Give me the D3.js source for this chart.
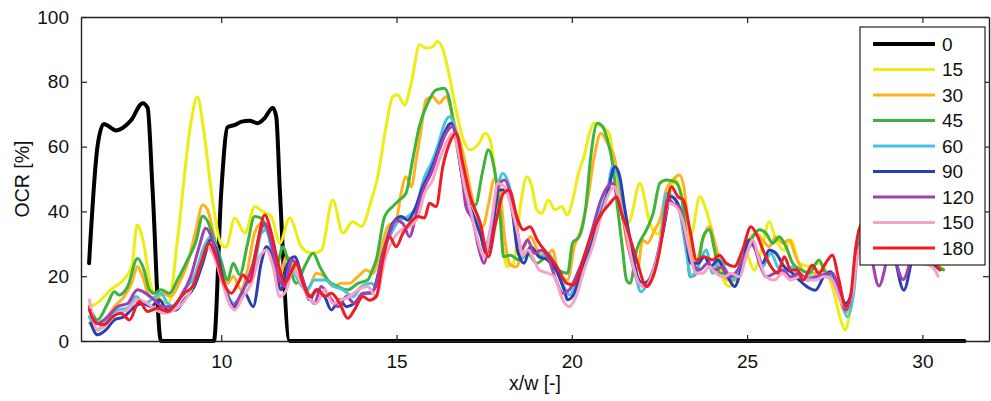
<!DOCTYPE html>
<html><head><meta charset="utf-8">
<script src="https://cdn.jsdelivr.net/npm/d3@7"></script>
<style>
html,body{margin:0;padding:0;background:#fff;}
svg{display:block;font-family:"Liberation Sans",Arial,Helvetica,sans-serif;}
</style></head>
<body><svg id="c" width="991" height="401"></svg>
<script>
const seriesNames = ["0","15","30","45","60","90","120","150","180"];
const seriesColors = ["#000000","#eded10","#ffb21f","#3cb33c","#45c4e0","#2b3fae","#a33fb0","#f5a3c7","#ee1c24"];
const xTicks = [10,15,20,25,30];
const yTicks = [0,20,40,60,80,100];

const s0 = [[6.23,24],[6.47,60],[6.65,67],[7.0,65],[7.42,68],[7.76,73.4],[7.9,72],[8.04,47],[8.28,0],[9.79,0],[10.0,46],[10.18,66],[10.39,66.7],[10.58,67.7],[10.81,68],[11.04,67.2],[11.24,68.8],[11.47,72],[11.57,69.2],[11.67,47],[11.95,0],[31.2,0]];
const s15 = [[6.23,10.5],[6.5,12],[6.83,15.7],[7.2,18.8],[7.45,23],[7.6,35.8],[7.77,31],[8.0,16.7],[8.18,13.7],[8.5,11.7],[8.75,31],[9.13,67],[9.32,75.4],[9.5,65],[9.75,43.5],[9.99,30],[10.13,29],[10.39,38],[10.67,33.3],[10.96,41.5],[11.19,39.9],[11.43,38.4],[11.67,30.2],[11.95,38],[12.29,29],[12.6,27],[12.86,28],[13.18,43.5],[13.47,33.3],[13.75,36.8],[14.0,35.3],[14.28,43.5],[14.45,50],[14.7,66],[14.89,75.4],[15.03,76],[15.23,72.8],[15.42,79.6],[15.66,91.4],[15.85,90.4],[16.03,90.8],[16.17,92.4],[16.31,90.4],[16.51,81.6],[16.7,71.3],[16.88,63],[17.1,59],[17.35,61],[17.53,64.1],[17.67,62],[17.85,48],[18.05,28],[18.15,23],[18.34,24],[18.53,41.5],[18.72,50.7],[18.86,47.7],[19.0,40.5],[19.14,39.4],[19.33,43.5],[19.52,40.5],[19.71,41.5],[19.86,38.9],[20.05,44.6],[20.19,51.8],[20.35,57],[20.5,64],[20.64,67.2],[20.87,66],[21.07,64],[21.2,55],[21.35,45],[21.5,36],[21.66,37.3],[21.94,48.7],[22.23,36.3],[22.45,33],[22.75,44],[22.97,49.7],[23.2,42],[23.4,33],[23.65,44.5],[23.86,39.4],[24.06,31.2],[24.25,21],[24.49,16.8],[24.68,19.8],[24.97,27],[25.2,21.9],[25.43,29],[25.63,36.8],[25.82,31.2],[26.05,28],[26.25,31.2],[26.49,24],[26.77,23],[27.05,24],[27.28,21],[27.48,14.8],[27.67,6.5],[27.79,3.4],[27.91,7.5],[28.1,23],[28.3,30],[28.8,28],[29.4,26],[30.0,25],[30.4,24],[30.6,22]];
const s30 = [[6.24,5.5],[6.47,3.4],[6.71,6.5],[6.95,10.6],[7.23,13.7],[7.45,18],[7.61,23],[7.76,19.9],[7.95,13.7],[8.15,13],[8.33,14.7],[8.56,13.7],[8.8,17.8],[9.04,24],[9.28,34.3],[9.47,42],[9.61,40.5],[9.8,32.2],[9.99,23],[10.18,17.8],[10.34,19.9],[10.57,15.8],[10.75,22],[10.95,33.3],[11.14,36.3],[11.29,34.3],[11.48,27],[11.67,19.9],[11.86,26],[12.05,24],[12.24,17.8],[12.47,15.8],[12.71,20.9],[12.95,19.9],[13.19,16.8],[13.42,17.8],[13.66,17.8],[13.9,19.9],[14.14,21.9],[14.33,20.9],[14.5,26],[14.75,35.3],[14.99,37.3],[15.13,45.6],[15.27,50.7],[15.42,47.6],[15.56,55.9],[15.7,65.1],[15.84,74.4],[16.03,75.4],[16.22,73.4],[16.41,75.4],[16.56,71.3],[16.7,65.1],[16.85,60],[16.98,53.8],[17.13,45.6],[17.3,39],[17.46,35.3],[17.62,42],[17.79,50],[17.93,48],[18.08,32.2],[18.22,23.9],[18.41,22.9],[18.64,29.1],[18.83,32.2],[19.02,28.1],[19.26,26],[19.45,28.1],[19.6,21.9],[19.88,18.8],[20.07,29.1],[20.26,34.3],[20.45,43.5],[20.64,56.9],[20.83,64.1],[21.02,61],[21.21,56.9],[21.4,43.5],[21.54,32.2],[21.68,26],[21.87,21.9],[22.02,31.2],[22.16,30.2],[22.35,34],[22.54,38.4],[22.69,46.6],[22.88,49.7],[23.07,51.2],[23.21,46.6],[23.35,33.2],[23.54,24],[23.73,31.2],[23.92,35.3],[24.11,29.1],[24.26,23],[24.45,18.8],[24.64,18.8],[24.87,24],[25.06,31.2],[25.25,33.2],[25.44,31.2],[25.63,29.1],[25.82,32.2],[26.01,30.2],[26.2,31.2],[26.39,26],[26.63,21.5],[26.95,20.9],[27.19,21.9],[27.43,18.8],[27.62,13.7],[27.81,8.5],[28.0,14.7],[28.14,27.1],[28.4,32],[29.0,28],[29.6,26],[30.2,24],[30.6,22]];
const s45 = [[6.24,10.6],[6.47,6.5],[6.76,11.6],[6.95,15.2],[7.09,14.2],[7.33,16.8],[7.61,25.5],[7.8,21.9],[7.95,15.8],[8.09,14.7],[8.28,15.8],[8.52,14.7],[8.75,18.8],[9.04,25],[9.28,30.7],[9.47,38.5],[9.61,37],[9.8,31.2],[9.99,25],[10.18,18.8],[10.34,24],[10.53,20.4],[10.75,30],[10.95,38.4],[11.14,37.9],[11.35,33],[11.57,23],[11.76,29.1],[11.9,25],[12.14,17.8],[12.38,23],[12.62,27.1],[12.81,23],[13.04,18.8],[13.33,16.8],[13.61,15.8],[13.9,17.8],[14.18,18.8],[14.33,22.4],[14.42,25],[14.66,38.4],[14.89,41.5],[15.08,43.5],[15.27,45.6],[15.46,55.9],[15.65,66.2],[15.89,73.4],[16.13,77.5],[16.37,78],[16.51,74.4],[16.65,65.1],[16.79,55.9],[16.94,47.6],[17.08,42.5],[17.25,42],[17.45,52],[17.62,59],[17.76,54.8],[17.96,38.4],[18.05,26],[18.24,26.5],[18.5,25],[18.75,27],[19.0,24],[19.3,26],[19.6,22],[19.88,20.9],[20.02,30.2],[20.21,32.2],[20.4,41.5],[20.54,56.9],[20.73,67.2],[20.88,66.2],[21.02,62],[21.16,54.9],[21.3,41.5],[21.45,28.1],[21.56,18.8],[21.66,17.8],[21.85,28.1],[22.13,34.3],[22.32,39.4],[22.51,48.7],[22.7,49.7],[22.94,49.2],[23.13,44.5],[23.27,31.2],[23.37,19.8],[23.56,20.9],[23.75,32.2],[23.92,34.3],[24.07,28.1],[24.21,20.9],[24.4,20.9],[24.64,19.8],[24.87,26],[25.11,31.2],[25.35,34.3],[25.54,33.2],[25.73,30.2],[25.92,32.2],[26.11,29.1],[26.3,24],[26.54,21.9],[26.77,20.9],[27.05,25],[27.24,20.9],[27.43,20],[27.62,14.7],[27.81,10.6],[28.0,14.7],[28.14,28.1],[28.4,32],[29.0,28],[29.6,26],[30.2,24],[30.6,22]];
const s60 = [[6.24,7.5],[6.47,3.4],[6.76,6.5],[7.04,9.6],[7.33,10.1],[7.57,13.7],[7.8,11.6],[8.05,13],[8.28,14.7],[8.47,11.6],[8.66,10.6],[8.94,15.8],[9.23,19.9],[9.51,29.1],[9.7,32.2],[9.89,27.1],[10.08,17.8],[10.38,11.6],[10.67,16.8],[10.9,19.9],[11.14,33.3],[11.29,34.3],[11.48,26],[11.71,17.8],[11.95,24],[12.14,19.9],[12.43,15.8],[12.66,18.8],[12.95,18.8],[13.23,16.8],[13.47,15.8],[13.76,13.7],[14.0,16.8],[14.28,17.8],[14.42,16.8],[14.61,27],[14.85,33.2],[15.08,37.3],[15.32,38.4],[15.56,41.5],[15.8,50.7],[15.99,54.8],[16.2,61],[16.37,67.2],[16.51,69.2],[16.65,66.2],[16.8,56],[16.98,45.6],[17.17,39.4],[17.36,35.3],[17.51,29.1],[17.7,35.3],[17.89,47.6],[18.03,51.7],[18.22,47.6],[18.41,36],[18.6,26],[18.83,29.1],[19.07,26],[19.31,27.1],[19.55,23],[19.78,16.8],[19.93,14.2],[20.12,17.8],[20.35,26],[20.59,33.3],[20.83,40.5],[21.02,46.6],[21.16,53.8],[21.3,51.8],[21.45,43.5],[21.64,31.2],[21.83,19.9],[21.97,15.2],[22.16,17.8],[22.35,23],[22.54,32.2],[22.69,45.6],[22.88,44.5],[23.07,40.4],[23.26,28.1],[23.4,19.8],[23.59,22.9],[23.83,28.1],[24.02,20.9],[24.21,25],[24.4,21.9],[24.59,18.8],[24.83,22.9],[25.02,31.2],[25.25,28.1],[25.44,22.9],[25.68,27.1],[25.87,22.9],[26.06,20.9],[26.3,22.9],[26.54,18.8],[26.77,19.8],[27.0,19.8],[27.24,20.9],[27.43,19.8],[27.67,13.7],[27.86,7.5],[28.05,15.7],[28.19,31.2],[28.4,34],[29.0,28],[29.6,26],[30.2,24],[30.5,22]];
const s90 = [[6.28,5.5],[6.47,1.9],[6.71,3.4],[6.95,6.5],[7.23,7.5],[7.52,10.6],[7.76,11.6],[8.0,10.6],[8.23,12.7],[8.47,9.6],[8.71,9.6],[8.94,12.7],[9.23,16.8],[9.47,24],[9.7,31.2],[9.89,27.1],[10.08,17.8],[10.38,10.6],[10.67,14.7],[10.91,10.6],[11.14,24],[11.29,29.1],[11.48,25],[11.71,15.8],[11.9,24],[12.09,26],[12.33,18.8],[12.52,12.7],[12.71,15.8],[12.95,13.7],[13.14,9.6],[13.38,12.7],[13.57,10.6],[13.8,11.6],[14.04,14.7],[14.3,15],[14.61,27],[14.89,36.3],[15.13,38.4],[15.32,37.3],[15.51,40.4],[15.75,47.6],[15.94,51.8],[16.13,57],[16.32,63],[16.56,67.2],[16.7,63],[16.85,52],[16.98,44.5],[17.17,39.4],[17.41,32.2],[17.55,27],[17.74,35.3],[17.93,46.6],[18.12,46.6],[18.31,39.4],[18.45,28],[18.64,24],[18.83,29.1],[19.07,26],[19.31,25],[19.55,21.9],[19.78,15.8],[19.88,12.7],[20.07,14.7],[20.31,23],[20.54,29.1],[20.78,37.4],[21.02,45.6],[21.23,53.8],[21.37,50.7],[21.5,41.5],[21.68,30.2],[21.87,19.9],[22.02,17.8],[22.21,18.8],[22.4,24],[22.59,33],[22.83,44.5],[23.02,42.5],[23.21,35.3],[23.4,24],[23.6,24],[23.78,26],[23.97,23],[24.16,25],[24.4,20.9],[24.64,16.8],[24.83,21.9],[25.06,31.2],[25.25,28.1],[25.44,24],[25.63,28.1],[25.82,27.1],[26.06,22.9],[26.3,20.9],[26.49,18.8],[26.68,17],[26.95,15.7],[27.19,19.9],[27.38,21.4],[27.57,17.8],[27.81,11.6],[28.0,15.7],[28.14,27.1],[28.45,30],[28.76,24],[29.1,29],[29.47,15.7],[29.8,28],[30.2,25],[30.5,22]];
const s120 = [[6.24,10.6],[6.47,5.5],[6.76,7.5],[7.04,10.6],[7.33,11.6],[7.61,15.8],[7.85,14.7],[8.09,12.7],[8.33,10.6],[8.61,10.6],[8.85,13.7],[9.13,19.9],[9.37,29.1],[9.56,34.8],[9.75,31.2],[9.99,19.9],[10.18,13.7],[10.29,10.5],[10.53,13.7],[10.72,18],[10.91,24],[11.1,33.3],[11.24,36.3],[11.43,30.2],[11.62,19.9],[11.81,16.8],[12.0,25],[12.19,23],[12.43,15.8],[12.66,11.6],[12.85,16.8],[13.09,13.7],[13.33,10.6],[13.57,13.7],[13.8,11.6],[14.04,14.7],[14.28,14.7],[14.42,17.8],[14.61,27],[14.8,33.2],[14.99,37.3],[15.18,36.3],[15.37,32.2],[15.58,40],[15.8,47.6],[15.99,51.8],[16.22,59],[16.41,64.1],[16.6,66.2],[16.75,61],[16.88,50],[16.98,41.5],[17.17,37.4],[17.36,28],[17.49,24],[17.7,35.3],[17.89,47.6],[18.08,49.7],[18.27,44.5],[18.46,33],[18.55,28.1],[18.74,31.2],[18.93,27.1],[19.12,28],[19.31,26],[19.55,18.8],[19.74,14.7],[19.93,15.8],[20.12,19.9],[20.35,26],[20.6,35],[20.83,43.5],[21.02,47.6],[21.16,48.7],[21.3,44.6],[21.49,36.3],[21.68,26],[21.87,18.8],[22.06,16.8],[22.25,19.9],[22.44,26],[22.6,35],[22.75,44],[22.88,42.5],[23.07,41.5],[23.26,31.2],[23.45,24],[23.64,21.9],[23.88,24],[24.07,21.9],[24.3,22.9],[24.49,19.8],[24.73,21.9],[24.97,27.1],[25.16,30.2],[25.35,24],[25.54,19.8],[25.78,20.9],[26.01,21.9],[26.25,19.8],[26.49,20.9],[26.73,18.8],[26.95,19.8],[27.19,20.4],[27.43,20.9],[27.62,15.7],[27.81,9.6],[28.0,15.7],[28.14,28.1],[28.4,32],[28.76,17],[29.1,28],[29.45,19],[29.8,28],[30.2,25],[30.5,22]];
const s150 = [[6.24,12.7],[6.47,3.4],[6.76,5.5],[7.04,8.6],[7.33,9.6],[7.61,12.7],[7.9,11.6],[8.14,9.6],[8.38,8.6],[8.66,9.6],[8.9,11.6],[9.18,16.8],[9.42,24],[9.61,29.1],[9.8,26],[10.04,17.8],[10.23,11.6],[10.38,9.6],[10.62,13.7],[10.86,17.8],[11.1,26],[11.29,28.1],[11.48,23],[11.67,13.7],[11.86,15.8],[12.05,21.9],[12.24,18.8],[12.47,13.7],[12.71,11.6],[12.95,15.8],[13.19,11.6],[13.42,12.7],[13.66,13.7],[13.9,15.8],[14.18,16.8],[14.42,13.7],[14.66,25],[14.89,31.2],[15.13,34.3],[15.37,35.3],[15.61,38.4],[15.8,45.6],[16.03,49.7],[16.22,55.9],[16.46,62],[16.6,64.1],[16.75,59],[16.94,47.6],[17.13,39.4],[17.32,31.2],[17.51,26],[17.7,36.3],[17.89,48.6],[18.08,47.6],[18.27,41.5],[18.46,33.2],[18.6,26.5],[18.75,28.1],[18.88,26],[19.07,21.9],[19.3,21],[19.5,19.9],[19.74,12.7],[19.93,10.6],[20.12,13.7],[20.35,21.9],[20.59,29.1],[20.83,38.4],[21.02,44.6],[21.21,47.7],[21.35,43.5],[21.54,34.3],[21.73,24],[21.92,17.8],[22.11,16.8],[22.3,20.9],[22.49,28.1],[22.6,35.3],[22.78,42.5],[22.97,41.5],[23.16,37.4],[23.35,28.1],[23.54,20.9],[23.73,20.9],[23.92,22.9],[24.11,20.9],[24.35,19.8],[24.54,20.9],[24.78,19.8],[24.97,26],[25.16,31.2],[25.35,25],[25.54,19.8],[25.78,18.8],[26.01,20.9],[26.25,18.8],[26.49,19.8],[26.73,18.8],[26.95,18.8],[27.19,19.9],[27.43,18.8],[27.62,13.7],[27.81,10.6],[28.0,14.7],[28.14,26],[28.4,32],[29.0,28],[29.6,26],[30.0,24],[30.27,23],[30.45,20]];
const s180 = [[6.24,9.6],[6.43,5.5],[6.66,5],[6.9,7.5],[7.14,8.6],[7.38,6.5],[7.66,12.2],[7.9,9.1],[8.18,10.1],[8.47,9.1],[8.71,11.6],[8.94,14.7],[9.18,16.8],[9.42,24],[9.66,30.2],[9.85,26],[10.08,17.8],[10.29,14.7],[10.48,17.8],[10.62,20.4],[10.81,18.3],[11.0,28.1],[11.24,38.9],[11.43,33.3],[11.62,24],[11.81,17.8],[12.0,21.4],[12.14,24],[12.33,17.8],[12.52,13.7],[12.76,15.8],[12.95,13.7],[13.14,14.7],[13.38,11.6],[13.61,7],[13.8,9.6],[14.04,13.7],[14.23,12.6],[14.42,13.7],[14.61,25],[14.8,32.2],[14.99,29.1],[15.18,33.2],[15.37,36.3],[15.61,38.4],[15.8,38],[15.94,42.5],[16.13,41.5],[16.32,53.8],[16.51,61],[16.7,64.1],[16.89,54.8],[17.1,44.6],[17.39,36.3],[17.62,26],[17.82,36],[18.05,45.6],[18.22,46.6],[18.43,38.4],[18.62,34.3],[18.81,35.3],[19.02,31],[19.29,27.1],[19.57,23],[19.86,17.8],[20.05,17.3],[20.2,20.5],[20.35,26],[20.54,32.2],[20.8,38.4],[21.09,42.5],[21.28,44.5],[21.42,39.4],[21.56,35.3],[21.85,25],[22.13,16.8],[22.23,17.8],[22.51,28.1],[22.7,41.5],[22.84,47.6],[23.03,44.5],[23.18,43.5],[23.37,34.3],[23.56,25],[23.75,26],[24.02,25],[24.21,26.5],[24.4,24],[24.64,23],[24.87,28.1],[25.11,35.3],[25.3,32.2],[25.49,27.1],[25.68,23],[25.87,20.9],[26.06,26],[26.25,21.9],[26.42,22],[26.6,18.8],[26.86,23.4],[27.05,20.9],[27.24,24],[27.43,26.5],[27.62,18.8],[27.81,10.6],[27.95,13.7],[28.09,28.1],[28.19,34.3],[28.4,38],[29.0,30],[29.6,27],[30.2,25],[30.5,22]];
const seriesData = [s0,s15,s30,s45,s60,s90,s120,s150,s180];

const svg = d3.select("#c");
const L = 81, R = 989, T = 17, B = 341;
const x = d3.scaleLinear().domain([6, 31.9]).range([L, R]);
const y = d3.scaleLinear().domain([0, 100]).range([B, T]);

// series
const line = d3.line().x(d => x(d[0])).y(d => y(d[1])).curve(d3.curveMonotoneX);
seriesData.forEach((s, i) => {
  svg.append("path").attr("d", line(s)).attr("fill", "none")
    .attr("stroke", seriesColors[i]).attr("stroke-width", i === 0 ? 4 : 3)
    .attr("stroke-linejoin", "round").attr("stroke-linecap", "round");
});

// axes (box with inward ticks)
const axisCol = "#222";
const gB = svg.append("g").attr("transform", `translate(0,${B})`)
  .call(d3.axisBottom(x).tickValues(xTicks).tickSizeInner(-6).tickSizeOuter(0).tickPadding(14));
const gT = svg.append("g").attr("transform", `translate(0,${T})`)
  .call(d3.axisTop(x).tickValues(xTicks).tickSizeInner(-6).tickSizeOuter(0).tickFormat(""));
const gL = svg.append("g").attr("transform", `translate(${L},0)`)
  .call(d3.axisLeft(y).tickValues(yTicks).tickSizeInner(-6).tickSizeOuter(0).tickPadding(12));
const gR = svg.append("g").attr("transform", `translate(${R},0)`)
  .call(d3.axisRight(y).tickValues(yTicks).tickSizeInner(-6).tickSizeOuter(0).tickFormat(""));
[gB,gT,gL,gR].forEach(g => {
  g.selectAll("path.domain").attr("stroke", axisCol).attr("stroke-width", 1.4);
  g.selectAll(".tick line").attr("stroke", axisCol).attr("stroke-width", 1.2);
  g.selectAll(".tick text").attr("fill", "#111").attr("font-size", 19)
    .attr("font-family", '"Liberation Sans",Arial,sans-serif');
});

// axis labels
svg.append("text").attr("x", (L + R) / 2).attr("y", 390).attr("text-anchor", "middle")
  .attr("font-size", 19.5).attr("fill", "#111").text("x/w [-]");
svg.append("text").attr("transform", `translate(29,${(T + B) / 2}) rotate(-90)`)
  .attr("text-anchor", "middle").attr("font-size", 19.5).attr("fill", "#111").text("OCR [%]");

// legend
const lg = svg.append("g");
lg.append("rect").attr("x", 860).attr("y", 27).attr("width", 125).attr("height", 238)
  .attr("fill", "#fff").attr("stroke", "#222").attr("stroke-width", 1.2);
seriesNames.forEach((n, i) => {
  const yy = 44 + i * 25.5;
  lg.append("line").attr("x1", 873).attr("x2", 935).attr("y1", yy).attr("y2", yy)
    .attr("stroke", seriesColors[i]).attr("stroke-width", i === 0 ? 4 : 3);
  lg.append("text").attr("x", 942).attr("y", yy).attr("dy", "0.36em")
    .attr("font-size", 19).attr("fill", "#111").text(n);
});
</script></body></html>
